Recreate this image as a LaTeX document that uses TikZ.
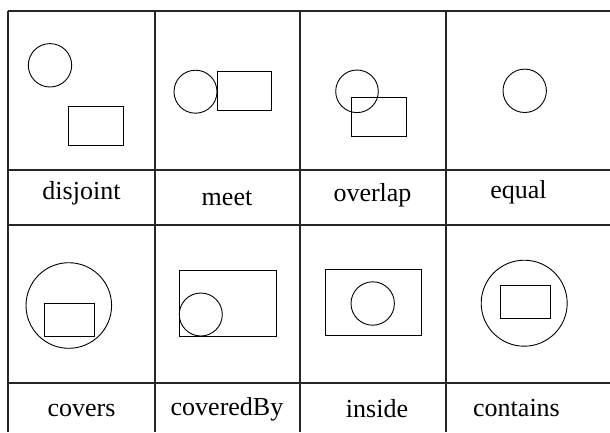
\documentclass[tikz,border=0pt]{standalone}
\usepackage{fontspec}
\setmainfont{Liberation Serif}
\begin{document}
\begin{tikzpicture}[x=1pt,y=-1pt,
  grid/.style={line width=1.1pt, black!85},
  outl/.style={line width=0.9pt, black},
  lbl/.style={anchor=base, inner sep=0pt, font=\fontsize{26}{30}\selectfont}]
\useasboundingbox (0,0) rectangle (610,432);
% table rules
\foreach \yy in {11,170,225,383} \draw[grid] (8,\yy) -- (610,\yy);
\foreach \xx in {8,155,300,446} \draw[grid] (\xx,11) -- (\xx,432);
% disjoint
\draw[outl] (50,65.3) circle[radius=21.7pt];
\draw[outl] (68.3,106.7) rectangle (123.3,145.7);
% meet
\draw[outl] (195.5,91.7) circle[radius=21.5pt];
\draw[outl] (217,71.7) rectangle (271,110);
% overlap
\draw[outl] (357,91.3) circle[radius=21.3pt];
\draw[outl] (351,97.3) rectangle (406.7,136.7);
% equal
\draw[outl] (524.7,90.8) circle[radius=21.7pt];
% covers
\draw[outl] (68.8,305.5) circle[radius=42.8pt];
\draw[outl] (44.3,303.3) rectangle (94.3,336.7);
% coveredBy
\draw[outl] (179.3,270.3) rectangle (276.7,336);
\draw[outl] (200.8,314.5) circle[radius=21.5pt];
% inside
\draw[outl] (325,269.3) rectangle (421.7,335.3);
\draw[outl] (372.7,303.5) circle[radius=21.7pt];
% contains
\draw[outl] (524.2,303.2) circle[radius=43pt];
\draw[outl] (500,285.3) rectangle (550,318.7);
% labels
\node[lbl] (tdisjoint) at (81.5,199.3) {disjoint};
\node[lbl] (tmeet) at (227,205) {meet};
\node[lbl] (toverlap) at (372.5,201.7) {overlap};
\node[lbl] (tequal) at (518.5,198) {equal};
\node[lbl] (tcovers) at (81.5,416.7) {covers};
\node[lbl] (tcoveredby) at (227,415) {coveredBy};
\node[lbl] (tinside) at (377,417) {inside};
\node[lbl] (tcontains) at (516.5,416.7) {contains};
\end{tikzpicture}
\end{document}
